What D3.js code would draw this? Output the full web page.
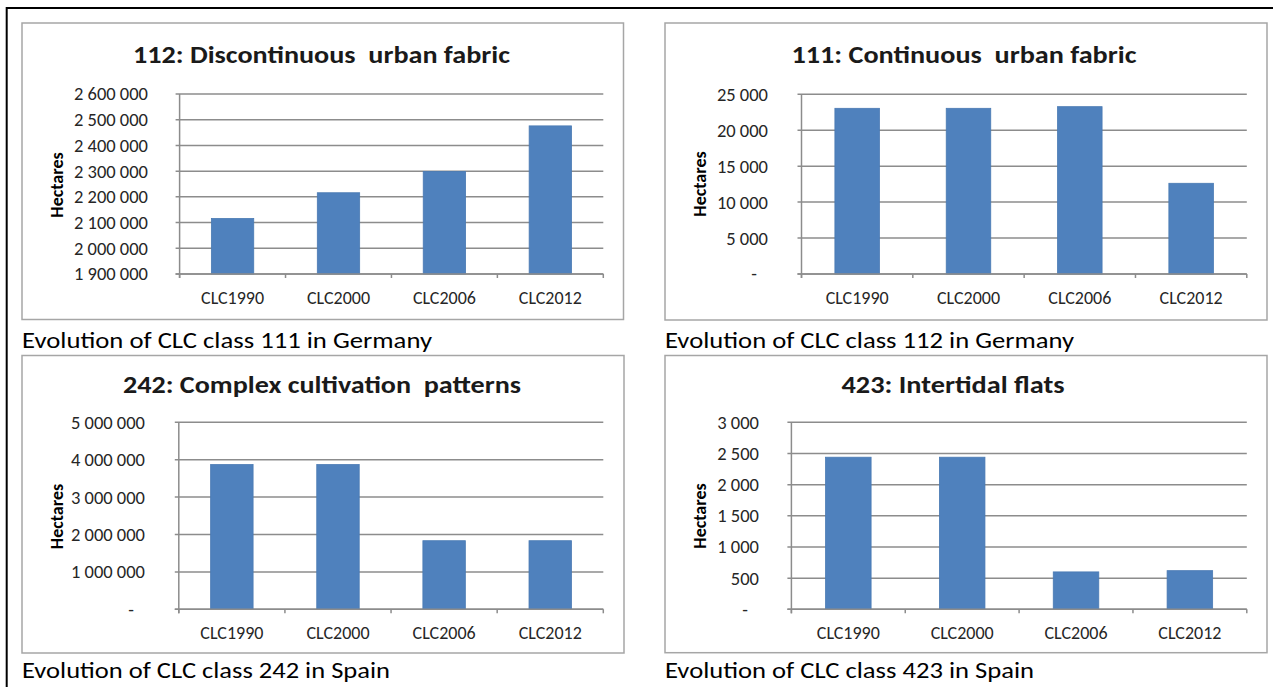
<!DOCTYPE html>
<html>
<head>
<meta charset="utf-8">
<script src="https://cdnjs.cloudflare.com/ajax/libs/d3/7.8.5/d3.min.js"></script>
<style>
  html, body { margin: 0; padding: 0; background: #fff; }
  svg { display: block; }
  text { white-space: pre; }
</style>
</head>
<body>
<svg id="chart" width="1273" height="687"></svg>
<script>
// ---------------- DATA ----------------
const categories = ["CLC1990", "CLC2000", "CLC2006", "CLC2012"];

const titles = [
  "112: Discontinuous  urban fabric",
  "111: Continuous  urban fabric",
  "242: Complex cultivation  patterns",
  "423: Intertidal flats"
];

const captions = [
  "Evolution of CLC class 111 in Germany",
  "Evolution of CLC class 112 in Germany",
  "Evolution of CLC class 242 in Spain",
  "Evolution of CLC class 423 in Spain"
];

const yAxisTitle = "Hectares";

const values112 = [2116000, 2216000, 2299000, 2476000];
const values111 = [23050, 23050, 23280, 12620];
const values242 = [3870000, 3870000, 1834000, 1834000];
const values423 = [2440, 2440, 600, 620];

const ticks112 = [1900000, 2000000, 2100000, 2200000, 2300000, 2400000, 2500000, 2600000];
const ticks111 = [0, 5000, 10000, 15000, 20000, 25000];
const ticks242 = [0, 1000000, 2000000, 3000000, 4000000, 5000000];
const ticks423 = [0, 500, 1000, 1500, 2000, 2500, 3000];

// ---------------- LAYOUT ----------------
const FONT = "Carlito, Calibri, Lato, 'Open Sans', sans-serif";
const panels = [
  { values: values112, ticks: ticks112, title: titles[0], caption: captions[0],
    box: [22, 23, 623.5, 319.5], plot: [179.6, 94, 603.3, 274],
    titleX: 321.5, titleY: 63, titleW: 377, labelRight: 148, hectX: 57, hectY: 185,
    catY: 298, capX: 22, capY: 348, capW: 410 },
  { values: values111, ticks: ticks111, title: titles[1], caption: captions[1],
    box: [665, 23, 1267, 320], plot: [801.5, 94.3, 1246.8, 274],
    titleX: 964, titleY: 63, titleW: 345, labelRight: 768, hectX: 699.7, hectY: 184,
    catY: 298, capX: 665, capY: 348, capW: 409 },
  { values: values242, ticks: ticks242, title: titles[2], caption: captions[2],
    box: [22, 355.5, 624, 653], plot: [178.8, 422.3, 603.3, 609.3],
    titleX: 322, titleY: 393, titleW: 398, labelRight: 145, hectX: 57, hectY: 516.5,
    catY: 632.5, capX: 22, capY: 678, capW: 368 },
  { values: values423, ticks: ticks423, title: titles[3], caption: captions[3],
    box: [665, 355.5, 1267, 652.7], plot: [791.4, 422.3, 1246.8, 609.3],
    titleX: 953, titleY: 393, titleW: 223, labelRight: 759, hectX: 699.7, hectY: 516,
    catY: 632.5, capX: 665, capY: 678, capW: 369 }
];

const svg = d3.select("#chart");
const locale = d3.formatLocale({ decimal: ",", thousands: " ", grouping: [3], currency: ["", ""] });
const fmt = locale.format(",.0f");

// Outer frame
svg.append("line").attr("x1", 6).attr("x2", 1273).attr("y1", 8).attr("y2", 8)
  .attr("stroke", "#000").attr("stroke-width", 2);
svg.append("line").attr("x1", 6.7).attr("x2", 6.7).attr("y1", 7).attr("y2", 687)
  .attr("stroke", "#000").attr("stroke-width", 2);

panels.forEach(p => {
  const g = svg.append("g");
  const [bx0, by0, bx1, by1] = p.box;
  const [px0, py0, px1, py1] = p.plot;

  // chart box
  g.append("rect").attr("x", bx0).attr("y", by0)
    .attr("width", bx1 - bx0).attr("height", by1 - by0)
    .attr("fill", "#fff").attr("stroke", "#a6a6a6").attr("stroke-width", 1.5);

  const x = d3.scaleBand().domain(categories).range([px0, px1]).padding(0);
  const y = d3.scaleLinear().domain([d3.min(p.ticks), d3.max(p.ticks)]).range([py1, py0]);

  // gridlines
  g.selectAll("line.grid").data(p.ticks).join("line")
    .attr("class", "grid")
    .attr("x1", px0 - 4).attr("x2", px1)
    .attr("y1", d => y(d)).attr("y2", d => y(d))
    .attr("stroke", "#8c8c8c").attr("stroke-width", 1.5);

  // y tick labels
  g.selectAll("text.ytick").data(p.ticks).join("text")
    .attr("class", "ytick")
    .attr("x", d => d === 0 ? p.labelRight - 11 : p.labelRight)
    .attr("y", d => y(d))
    .attr("dy", "0.35em")
    .attr("text-anchor", "end")
    .attr("font-family", FONT).attr("font-size", 18.5).attr("fill", "#262626")
    .text(d => d === 0 ? "-" : fmt(d));

  // bars
  g.selectAll("rect.bar").data(p.values).join("rect")
    .attr("class", "bar")
    .attr("x", (d, i) => x(categories[i]) + x.bandwidth() * 0.3)
    .attr("width", x.bandwidth() * 0.4)
    .attr("y", d => y(d))
    .attr("height", d => y(d3.min(p.ticks)) - y(d))
    .attr("fill", "#4f81bd").attr("stroke", "#4a7ab3").attr("stroke-width", 0.8);

  // axes
  g.append("line").attr("x1", px0).attr("x2", px0).attr("y1", py0).attr("y2", py1 + 4)
    .attr("stroke", "#8c8c8c").attr("stroke-width", 1.5);
  g.append("line").attr("x1", px0 - 4).attr("x2", px1).attr("y1", py1).attr("y2", py1)
    .attr("stroke", "#8c8c8c").attr("stroke-width", 1.5);
  const bounds = categories.map(c => x(c)).concat([px1]);
  g.selectAll("line.xtick").data(bounds).join("line")
    .attr("class", "xtick")
    .attr("x1", d => d).attr("x2", d => d)
    .attr("y1", py1).attr("y2", py1 + 4)
    .attr("stroke", "#8c8c8c").attr("stroke-width", 1.5);

  // category labels
  g.selectAll("text.xcat").data(categories).join("text")
    .attr("class", "xcat")
    .attr("x", d => x(d) + x.bandwidth() / 2)
    .attr("y", p.catY).attr("dy", "0.35em")
    .attr("text-anchor", "middle")
    .attr("font-family", FONT).attr("font-size", 18).attr("fill", "#262626")
    .text(d => d);

  // y axis title
  g.append("text")
    .attr("transform", `translate(${p.hectX},${p.hectY}) rotate(-90)`)
    .attr("dy", "0.35em")
    .attr("text-anchor", "middle")
    .attr("font-family", FONT).attr("font-size", 18).attr("font-weight", "bold").attr("fill", "#000")
    .text(yAxisTitle);

  // chart title
  g.append("text")
    .attr("x", p.titleX - p.titleW / 2).attr("y", p.titleY)
    .attr("textLength", p.titleW).attr("lengthAdjust", "spacingAndGlyphs")
    .attr("font-family", FONT).attr("font-size", 25).attr("font-weight", "bold").attr("fill", "#1a1a1a")
    .text(p.title);

  // caption below the chart
  svg.append("text")
    .attr("x", p.capX).attr("y", p.capY)
    .attr("textLength", p.capW).attr("lengthAdjust", "spacingAndGlyphs")
    .attr("font-family", FONT).attr("font-size", 22.5).attr("fill", "#000")
    .text(p.caption);
});
</script>
</body>
</html>
